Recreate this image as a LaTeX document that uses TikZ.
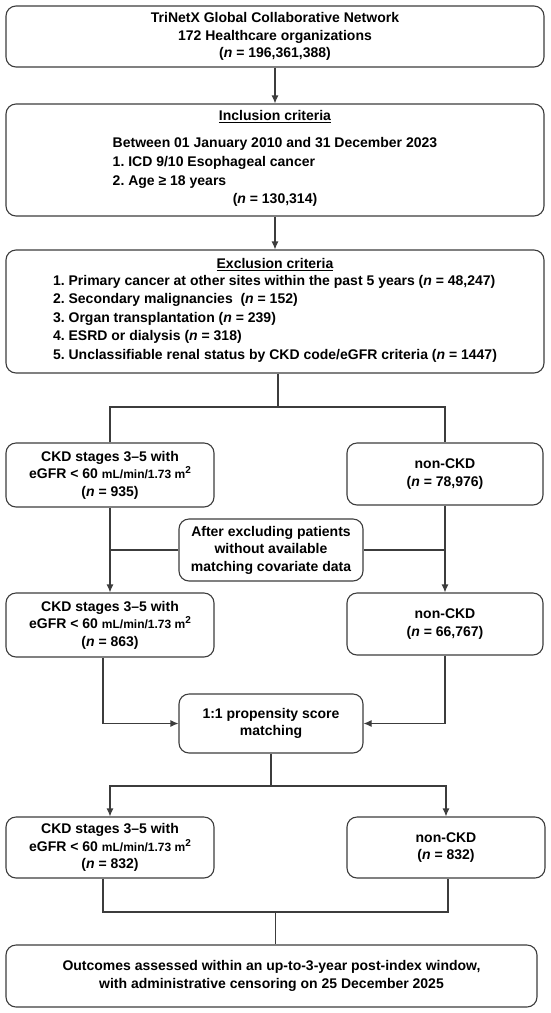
\documentclass[tikz,border=0pt]{standalone}
\usepackage{fontspec}
\setmainfont{Liberation Sans}
\usetikzlibrary{arrows.meta}
\frenchspacing
\definecolor{linegray}{HTML}{3C3C3C}
\newcommand{\ncase}{\textit{n}}
\newcommand{\egfrunit}{eGFR < 60 {\fontsize{12}{12}\selectfont mL/min/1.73 m\raisebox{5pt}{\fontsize{10}{10}\selectfont 2}}}
\tikzset{box/.style={draw=linegray, line width=1.1pt, rounded corners=10pt, align=center,
    inner sep=0pt, font=\fontsize{14}{17.5}\selectfont\bfseries}}
\begin{document}
\begin{tikzpicture}[x=1pt, y=-1pt, >={Latex[length=8pt,width=7pt]}]
\useasboundingbox (0,0) rectangle (550,1013);
% top part
\node[box, minimum width=538pt, minimum height=61pt] (net) at (275,36.5)
  {TriNetX Global Collaborative Network\\172 Healthcare organizations\\(\ncase{} = 196,361,388)};
\node[box, minimum width=538pt, minimum height=112pt] (incl) at (275,160)
  {\underline{Inclusion criteria}\\[11pt]
   \renewcommand{\arraystretch}{1.07}%
   \begin{tabular}{@{}l@{}}Between 01 January 2010 and 31 December 2023\\1. ICD 9/10 Esophageal cancer\\
   2. Age ≥ 18 years\\\multicolumn{1}{@{}c@{}}{(\ncase{} = 130,314)}\end{tabular}};
\node[box, minimum width=538pt, minimum height=123pt] (excl) at (275,311.5)
  {\underline{Exclusion criteria}\\[1pt]
   \renewcommand{\arraystretch}{1.05}%
   \begin{tabular}{@{}l@{}}1. Primary cancer at other sites within the past 5 years (\ncase{} = 48,247)\\
   2. Secondary malignancies\ \ (\ncase{} = 152)\\3. Organ transplantation (\ncase{} = 239)\\
   4. ESRD or dialysis (\ncase{} = 318)\\
   5. Unclassifiable renal status by CKD code/eGFR criteria (\ncase{} = 1447)\end{tabular}};
% groups
\node[box, minimum width=208pt, minimum height=64pt] (ckdA) at (110,475)
  {CKD stages 3--5 with\\\egfrunit\\(\ncase{} = 935)};
\node[box, minimum width=196pt, minimum height=62pt] (nonA) at (445,474)
  {non-CKD\\(\ncase{} = 78,976)};
\node[box, minimum width=184pt, minimum height=62pt] (drop) at (271,550)
  {After excluding patients\\without available\\matching covariate data};
\node[box, minimum width=208pt, minimum height=64pt] (ckdB) at (110,625)
  {CKD stages 3--5 with\\\egfrunit\\(\ncase{} = 863)};
\node[box, minimum width=196pt, minimum height=62pt] (nonB) at (445,624)
  {non-CKD\\(\ncase{} = 66,767)};
\node[box, minimum width=184pt, minimum height=59pt] (psm) at (271,723.5)
  {1:1 propensity score\\matching};
\node[box, minimum width=208pt, minimum height=61pt] (ckdC) at (110,847.5)
  {CKD stages 3--5 with\\\egfrunit\\(\ncase{} = 832)};
\node[box, minimum width=198pt, minimum height=61pt] (nonC) at (446,847.5)
  {non-CKD\\(\ncase{} = 832)};
\node[box, minimum width=531pt, minimum height=62pt] (outc) at (271.5,976)
  {Outcomes assessed within an up-to-3-year post-index window,\\with administrative censoring on 25 December 2025};
\coordinate (split) at (278,407);
\coordinate (split2) at (271,786);
\coordinate (join) at (275.5,912);
% connectors
\begin{scope}[draw=linegray, line width=1.1pt]
\draw[->] (net) -- (incl);
\draw[->] (incl) -- (excl);
\draw (split |- excl.south) -- (split);
\draw (ckdA.north) |- (split) -| (nonA.north);
\draw[->] (ckdA) -- (ckdB);
\draw[->] (nonA) -- (nonB);
\draw (drop.west) -- (drop.west -| ckdA.south);
\draw (drop.east) -- (drop.east -| nonA.south);
\draw[->] ([xshift=-7pt]ckdB.south) |- (psm.west);
\draw[->] (nonB.south) |- (psm.east);
\draw (psm) -- (split2);
\draw[->] (split2) -| (ckdC.north);
\draw[->] (split2) -| (nonC.north);
\draw ([xshift=-7pt]ckdC.south) |- (join) -| ([xshift=2pt]nonC.south);
\draw (join) -- (join |- outc.north);
\end{scope}
\end{tikzpicture}
\end{document}
